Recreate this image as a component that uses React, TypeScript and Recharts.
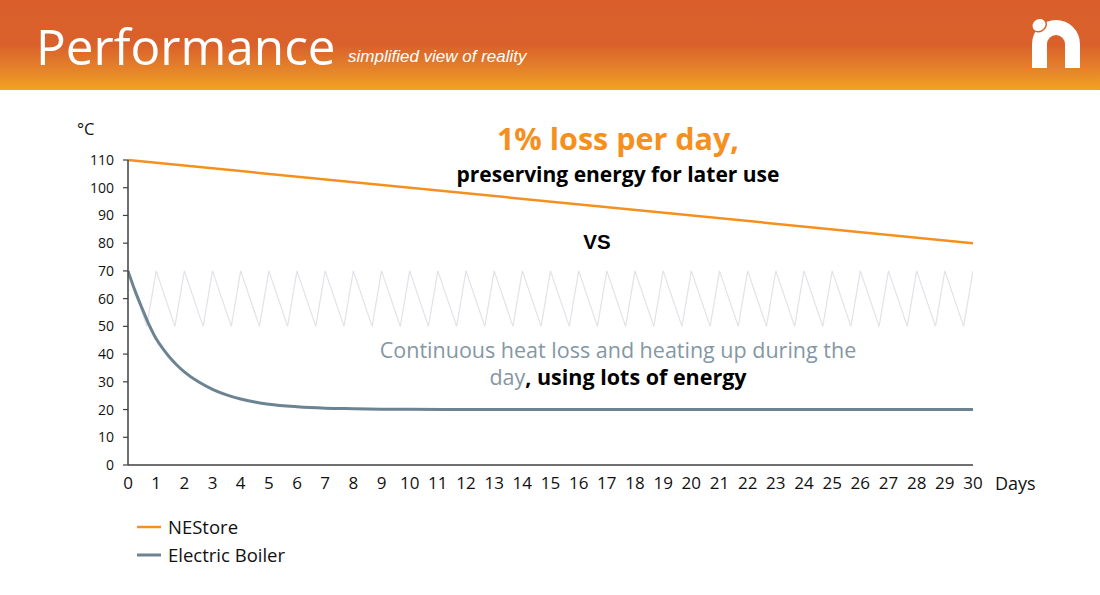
import React from "react";
import { LineChart, Line, XAxis, YAxis } from "recharts";

const dayTicks = Array.from({ length: 31 }, (_, i) => i);
const tempTicks = [0, 10, 20, 30, 40, 50, 60, 70, 80, 90, 100, 110];

const nestoreDays = [0, 30];
const nestoreTemps = [110, 80];

const boilerDays = [0, 0.25, 0.5, 0.75, 1, 1.25, 1.5, 1.75, 2, 2.5, 3, 3.5, 4, 4.5, 5, 6, 7, 8, 9, 10, 12, 15, 20, 25, 30];
const boilerTemps = [70, 62.8, 56.5, 50.5, 45.5, 41.8, 38.6, 35.9, 33.6, 30, 27.3, 25.3, 23.8, 22.7, 21.9, 21, 20.5, 20.3, 20.15, 20.1, 20, 20, 20, 20, 20];

// heating cycle: peaks at whole days, troughs 1/3 day before
const cycleDays: number[] = [0];
const cycleTemps: number[] = [70];
for (let d = 1; d <= 30; d++) {
  cycleDays.push(d - 1 / 3, d);
  cycleTemps.push(50, 70);
}

const nestoreData = nestoreDays.map((d, i) => ({ day: d, t: nestoreTemps[i] }));
const boilerData = boilerDays.map((d, i) => ({ day: d, t: boilerTemps[i] }));
const cycleData = cycleDays.map((d, i) => ({ day: d, t: cycleTemps[i] }));

const ORANGE = "#F5901E";
const SLATE = "#6C8391";
const AXIS = "#404040";
const FONT = "'Open Sans', 'Noto Sans', sans-serif";

export default function App() {
  return (
    <div style={{ position: "absolute", left: 0, top: 0, width: 1100, height: 595, background: "#fff", overflow: "hidden", fontFamily: FONT }}>
      {/* header */}
      <div style={{ position: "absolute", left: 0, top: 0, width: 1100, height: 90, background: "linear-gradient(to bottom, #D95E2C 0%, #DA612B 50%, #E5842A 78%, #F1A321 100%)" }} />
      <div style={{ position: "absolute", left: 36, top: 14, color: "#fff", fontSize: 49.5, lineHeight: "64px", fontFamily: FONT, whiteSpace: "nowrap" }}>
        Performance
      </div>
      <div style={{ position: "absolute", left: 348, top: 47, color: "#fff", fontSize: 17, fontStyle: "italic", fontFamily: "'Liberation Sans', Arial, sans-serif", whiteSpace: "nowrap" }}>
        simplified view of reality
      </div>
      <svg style={{ position: "absolute", left: 0, top: 0 }} width={1100} height={90}>
        <path d="M1032,68 L1032,44 A24,24 0 0 1 1080,44 L1080,68 L1065,68 L1065,44 A9,9 0 0 0 1047,44 L1047,68 Z" fill="#fff" />
        <ellipse cx={1039} cy={25} rx={7.5} ry={6.5} fill="#fff" stroke="#DA602B" strokeWidth={1.5} transform="rotate(-30 1039 25)" />
      </svg>

      {/* chart */}
      <div style={{ position: "absolute", left: 0, top: 0 }}>
        <LineChart width={1100} height={595} margin={{ top: 160, right: 127, bottom: 100, left: 78 }}>
          <XAxis
            type="number"
            dataKey="day"
            domain={[0, 30]}
            ticks={dayTicks}
            interval={0}
            allowDataOverflow
            height={30}
            tickLine={false}
            tickSize={0}
            tickMargin={12}
            axisLine={{ stroke: AXIS, strokeWidth: 1.5 }}
            tick={{ fill: "#111", fontSize: 17, fontFamily: FONT }}
          />
          <YAxis
            type="number"
            dataKey="t"
            domain={[0, 110]}
            ticks={tempTicks}
            interval={0}
            width={50}
            tickSize={5}
            tickMargin={9}
            tickLine={{ stroke: AXIS, strokeWidth: 1.2 }}
            axisLine={{ stroke: AXIS, strokeWidth: 1.5 }}
            tick={{ fill: "#111", fontSize: 14, fontFamily: FONT }}
          />
          <Line data={cycleData} dataKey="t" type="linear" stroke="#E2E2E8" strokeWidth={1.2} dot={false} isAnimationActive={false} />
          <Line data={boilerData} dataKey="t" type="monotone" stroke={SLATE} strokeWidth={3} dot={false} isAnimationActive={false} />
          <Line data={nestoreData} dataKey="t" type="linear" stroke={ORANGE} strokeWidth={2.5} dot={false} isAnimationActive={false} />
        </LineChart>
      </div>

      {/* axis titles */}
      <div style={{ position: "absolute", left: 77, top: 117, fontSize: 16.5, color: "#111" }}>°C</div>
      <div style={{ position: "absolute", left: 995, top: 471, fontSize: 18, color: "#111" }}>Days</div>

      {/* annotations */}
      <div style={{ position: "absolute", left: 318, width: 600, top: 120, textAlign: "center", fontSize: 30.5, fontWeight: 700, color: ORANGE, lineHeight: "36px" }}>
        1% loss per day,
      </div>
      <div style={{ position: "absolute", left: 318, width: 600, top: 162, textAlign: "center", fontSize: 21, fontWeight: 700, color: "#000", lineHeight: "24px" }}>
        preserving energy for later use
      </div>
      <div style={{ position: "absolute", left: 497, width: 200, top: 230, textAlign: "center", fontSize: 20.5, fontWeight: 700, color: "#000", fontFamily: "'Liberation Sans', Arial, sans-serif" }}>
        VS
      </div>
      <div style={{ position: "absolute", left: 268, width: 700, top: 336, textAlign: "center", fontSize: 21.5, color: "#8497A4", lineHeight: "27px" }}>
        Continuous heat loss and heating up during the
        <br />
        day<span style={{ color: "#000", fontWeight: 700 }}>, using lots of energy</span>
      </div>

      {/* legend */}
      <svg style={{ position: "absolute", left: 0, top: 0 }} width={1100} height={595}>
        <line x1={137} x2={161} y1={527} y2={527} stroke={ORANGE} strokeWidth={2.5} />
        <line x1={137} x2={161} y1={555} y2={555} stroke={SLATE} strokeWidth={3} />
      </svg>
      <div style={{ position: "absolute", left: 168, top: 514, fontSize: 18.5, color: "#111", lineHeight: "26px" }}>NEStore</div>
      <div style={{ position: "absolute", left: 168, top: 542, fontSize: 18.5, color: "#111", lineHeight: "26px" }}>Electric Boiler</div>
    </div>
  );
}
